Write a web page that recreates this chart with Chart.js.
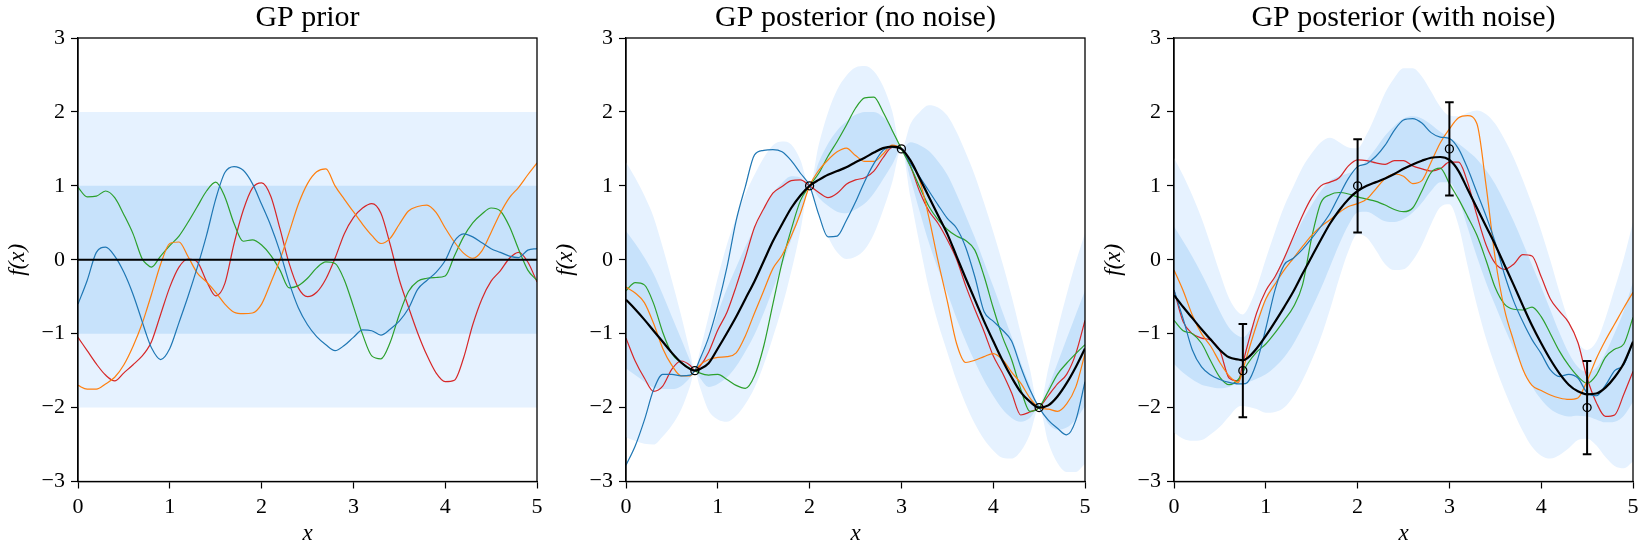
<!DOCTYPE html>
<html>
<head>
<meta charset="utf-8">
<script src="https://cdn.jsdelivr.net/npm/chart.js@4.4.0/dist/chart.umd.min.js"></script>
<style>
  html, body { margin: 0; padding: 0; background: #fff; }
  #wrap { position: relative; width: 1644px; height: 548px; overflow: hidden; background: #fff; }
  #wrap canvas { position: absolute; top: 0; }
</style>
</head>
<body>
<div id="wrap">
  <canvas id="prior" width="615" height="548" style="left:0px"></canvas>
  <canvas id="post" width="615" height="548" style="left:548px"></canvas>
  <canvas id="noisy" width="615" height="548" style="left:1096px"></canvas>
</div>
<script>
/* shared x grid (0.75 added so the curves go through the first data point) */
const xs = [0, 0.1, 0.2, 0.3, 0.4, 0.5, 0.6, 0.7, 0.75, 0.8, 0.9,
  1, 1.1, 1.2, 1.3, 1.4, 1.5, 1.6, 1.7, 1.8, 1.9,
  2, 2.1, 2.2, 2.3, 2.4, 2.5, 2.6, 2.7, 2.8, 2.9,
  3, 3.1, 3.2, 3.3, 3.4, 3.5, 3.6, 3.7, 3.8, 3.9,
  4, 4.1, 4.2, 4.3, 4.4, 4.5, 4.6, 4.7, 4.8, 4.9, 5];

const xTicks = [0, 1, 2, 3, 4, 5];
const yTicks = [-3, -2, -1, 0, 1, 2, 3];
const titles = ["GP prior", "GP posterior (no noise)", "GP posterior (with noise)"];

/* observations */
const obsX = [0.75, 2, 3, 4.5];
const obsY = [-1.5, 1, 1.5, -2];
const obsErr = [0.63, 0.63, 0.63, 0.63];

/* panel 1: prior */
const priorMeanX = [0, 5];
const priorMean = [0, 0];
const priorSd = [1, 1];
const priorBlue = [-0.60, -0.28, 0.10, 0.17, 0.05, -0.17, -0.47, -0.84, -1.03, -1.19, -1.35,
  -1.20, -0.85, -0.49, -0.10, 0.33, 0.82, 1.18, 1.26, 1.21, 1.03,
  0.75, 0.46, 0.11, -0.31, -0.65, -0.88, -1.04, -1.15, -1.23, -1.16,
  -1.05, -0.95, -0.96, -1.02, -0.94, -0.83, -0.66, -0.40, -0.28, -0.17,
  -0.01, 0.25, 0.35, 0.31, 0.23, 0.15, 0.10, 0.05, 0.03, 0.13, 0.15];
const priorOrange = [-1.70, -1.75, -1.75, -1.68, -1.59, -1.42, -1.17, -0.86, -0.67, -0.47, -0.06,
  0.22, 0.24, 0.04, -0.18, -0.30, -0.44, -0.60, -0.71, -0.73, -0.72,
  -0.60, -0.31, 0.00, 0.37, 0.75, 1.03, 1.19, 1.23, 1.00, 0.82,
  0.65, 0.48, 0.33, 0.22, 0.29, 0.48, 0.66, 0.72, 0.74, 0.64,
  0.43, 0.24, 0.09, 0.02, 0.12, 0.37, 0.63, 0.84, 0.98, 1.15, 1.31];
const priorGreen = [0.98, 0.85, 0.86, 0.93, 0.84, 0.61, 0.35, 0.01, -0.06, -0.10, 0.05,
  0.19, 0.32, 0.51, 0.72, 0.93, 1.05, 0.85, 0.49, 0.25, 0.27,
  0.20, 0.06, -0.14, -0.38, -0.35, -0.25, -0.11, -0.03, -0.05, -0.27,
  -0.63, -1.01, -1.30, -1.34, -1.12, -0.74, -0.43, -0.29, -0.25, -0.24,
  -0.22, 0.05, 0.31, 0.50, 0.62, 0.70, 0.66, 0.45, 0.14, -0.14, -0.28];
const priorRed = [-1.05, -1.23, -1.41, -1.56, -1.64, -1.53, -1.42, -1.30, -1.22, -1.11, -0.74,
  -0.37, -0.10, 0.01, -0.03, -0.29, -0.49, -0.32, 0.22, 0.67, 0.97,
  1.04, 0.86, 0.42, -0.05, -0.38, -0.50, -0.44, -0.26, 0.02, 0.35,
  0.57, 0.70, 0.76, 0.63, 0.21, -0.27, -0.64, -0.99, -1.29, -1.53,
  -1.65, -1.63, -1.33, -0.88, -0.53, -0.29, -0.15, 0.02, 0.10, -0.03, -0.30];

/* panel 2: posterior without noise */
const postMean = [-0.54, -0.67, -0.81, -0.96, -1.11, -1.26, -1.39, -1.48, -1.50, -1.48, -1.40,
  -1.20, -0.99, -0.77, -0.53, -0.29, -0.02, 0.25, 0.48, 0.70, 0.87,
  1.00, 1.08, 1.15, 1.20, 1.25, 1.32, 1.38, 1.45, 1.51, 1.53,
  1.50, 1.34, 1.10, 0.85, 0.60, 0.35, 0.05, -0.25, -0.54, -0.83,
  -1.10, -1.36, -1.59, -1.79, -1.92, -2.00, -1.97, -1.85, -1.67, -1.45, -1.20];
const postSd = [0.93, 0.89, 0.84, 0.77, 0.64, 0.49, 0.32, 0.11, 0, 0.11, 0.32,
  0.48, 0.60, 0.67, 0.71, 0.72, 0.70, 0.65, 0.56, 0.43, 0.24,
  0, 0.24, 0.42, 0.55, 0.62, 0.64, 0.62, 0.55, 0.42, 0.24,
  0, 0.25, 0.45, 0.62, 0.73, 0.80, 0.84, 0.85, 0.84, 0.80,
  0.74, 0.66, 0.55, 0.40, 0.22, 0, 0.25, 0.45, 0.60, 0.71, 0.78];
const postBlue = [-2.78, -2.52, -2.17, -1.76, -1.55, -1.55, -1.57, -1.56, -1.50, -1.36, -1.05,
  -0.62, -0.10, 0.53, 0.99, 1.42, 1.48, 1.49, 1.46, 1.34, 1.17,
  1.00, 0.61, 0.31, 0.32, 0.53, 0.78, 1.06, 1.30, 1.48, 1.52,
  1.50, 1.30, 1.12, 0.93, 0.74, 0.56, 0.43, 0.17, -0.23, -0.70,
  -0.83, -0.95, -1.10, -1.45, -1.76, -2.00, -2.17, -2.28, -2.37, -2.17, -1.65];
const postOrange = [-0.37, -0.45, -0.58, -0.86, -1.20, -1.43, -1.57, -1.57, -1.50, -1.43, -1.35,
  -1.32, -1.31, -1.26, -1.03, -0.72, -0.42, -0.12, 0.06, 0.32, 0.63,
  1.00, 1.21, 1.35, 1.46, 1.51, 1.41, 1.33, 1.33, 1.43, 1.55,
  1.50, 1.34, 1.07, 0.57, -0.02, -0.56, -1.13, -1.39, -1.36, -1.31,
  -1.27, -1.35, -1.52, -1.67, -1.87, -2.00, -2.02, -2.05, -1.95, -1.72, -1.27];
const postGreen = [-0.42, -0.31, -0.34, -0.59, -0.98, -1.27, -1.39, -1.47, -1.50, -1.53, -1.56,
  -1.55, -1.62, -1.70, -1.74, -1.57, -1.17, -0.60, -0.04, 0.41, 0.80,
  1.00, 1.17, 1.40, 1.60, 1.82, 2.05, 2.19, 2.20, 2.00, 1.75,
  1.50, 1.26, 0.98, 0.72, 0.54, 0.41, 0.32, 0.26, 0.13, -0.22,
  -0.65, -1.04, -1.35, -1.75, -2.05, -2.00, -1.78, -1.55, -1.40, -1.27, -1.15];
const postRed = [-1.06, -1.37, -1.60, -1.78, -1.71, -1.48, -1.37, -1.43, -1.50, -1.45, -1.25,
  -0.95, -0.71, -0.36, 0.03, 0.44, 0.69, 0.90, 0.99, 1.07, 1.08,
  1.00, 0.91, 0.84, 0.90, 1.02, 1.08, 1.11, 1.20, 1.38, 1.52,
  1.50, 1.26, 0.92, 0.66, 0.49, 0.27, 0.01, -0.35, -0.67, -0.97,
  -1.30, -1.53, -1.80, -2.10, -2.06, -2.00, -1.84, -1.68, -1.55, -1.27, -0.82];

/* panel 3: posterior with noise */
const noisyMean = [-0.48, -0.64, -0.79, -0.94, -1.08, -1.22, -1.32, -1.35, -1.36, -1.33, -1.20,
  -1.03, -0.84, -0.64, -0.43, -0.19, 0.04, 0.27, 0.49, 0.67, 0.82,
  0.93, 1.00, 1.05, 1.10, 1.16, 1.23, 1.29, 1.34, 1.38, 1.39,
  1.35, 1.20, 0.95, 0.70, 0.45, 0.20, -0.07, -0.34, -0.62, -0.89,
  -1.13, -1.35, -1.54, -1.69, -1.78, -1.82, -1.81, -1.73, -1.59, -1.40, -1.11];
const noisySd = [0.93, 0.89, 0.83, 0.75, 0.64, 0.52, 0.40, 0.32, 0.31, 0.33, 0.41,
  0.52, 0.61, 0.68, 0.71, 0.72, 0.70, 0.66, 0.58, 0.46, 0.35,
  0.29, 0.35, 0.46, 0.58, 0.65, 0.68, 0.65, 0.57, 0.45, 0.34,
  0.30, 0.37, 0.52, 0.66, 0.76, 0.82, 0.85, 0.86, 0.85, 0.82,
  0.76, 0.67, 0.55, 0.43, 0.33, 0.30, 0.35, 0.47, 0.60, 0.71, 0.81];
const noisyBlue = [-0.41, -0.80, -1.22, -1.45, -1.56, -1.62, -1.66, -1.68, -1.68, -1.66, -1.39,
  -0.93, -0.41, -0.07, 0.02, 0.14, 0.29, 0.45, 0.63, 0.87, 1.10,
  1.26, 1.30, 1.40, 1.55, 1.75, 1.89, 1.91, 1.85, 1.72, 1.66,
  1.64, 1.50, 1.23, 0.91, 0.59, 0.23, -0.20, -0.56, -0.84, -1.08,
  -1.27, -1.49, -1.58, -1.55, -1.60, -1.80, -1.84, -1.70, -1.50, -1.42, -1.11];
const noisyOrange = [-0.14, -0.42, -0.75, -1.00, -1.17, -1.39, -1.57, -1.66, -1.49, -1.28, -0.88,
  -0.53, -0.33, -0.14, 0.02, 0.18, 0.33, 0.45, 0.54, 0.64, 0.72,
  0.76, 0.82, 0.96, 1.10, 1.16, 1.13, 1.03, 1.07, 1.32, 1.58,
  1.77, 1.92, 1.95, 1.84, 1.00, 0.01, -0.67, -1.10, -1.48, -1.70,
  -1.77, -1.83, -1.87, -1.89, -1.87, -1.64, -1.34, -1.09, -0.87, -0.65, -0.44];
const noisyGreen = [-0.82, -0.96, -1.00, -1.13, -1.37, -1.59, -1.69, -1.62, -1.52, -1.41, -1.25,
  -1.14, -0.99, -0.82, -0.64, -0.34, 0.30, 0.77, 0.88, 0.91, 0.89,
  0.85, 0.82, 0.79, 0.74, 0.68, 0.65, 0.70, 0.93, 1.18, 1.24,
  1.03, 0.82, 0.58, 0.33, -0.01, -0.38, -0.60, -0.67, -0.68, -0.64,
  -0.77, -1.00, -1.24, -1.43, -1.58, -1.67, -1.56, -1.32, -1.21, -1.14, -0.78];
const noisyRed = [-0.41, -0.84, -1.00, -1.06, -1.09, -1.23, -1.60, -1.64, -1.40, -1.16, -0.72,
  -0.42, -0.23, 0.02, 0.31, 0.60, 0.84, 1.00, 1.05, 1.11, 1.27,
  1.35, 1.34, 1.31, 1.29, 1.34, 1.34, 1.27, 1.23, 1.20, 1.23,
  1.32, 1.32, 1.04, 0.60, 0.20, -0.05, -0.13, -0.06, 0.07, 0.05,
  -0.23, -0.53, -0.70, -0.85, -1.12, -1.60, -1.93, -2.12, -2.10, -1.82, -1.51];

const FONT = '"Liberation Serif", "DejaVu Serif", serif';
const LIGHT = "rgb(230, 242, 255)";
const DARK = "rgb(199, 226, 251)";
const C = { blue: "#1f77b4", orange: "#ff7f0e", green: "#2ca02c", red: "#d62728" };

Chart.defaults.font.family = FONT;
Chart.defaults.color = "#000";

const pts = (xv, yv) => xv.map((x, i) => ({ x, y: yv[i] }));
const fmt = v => (v < 0 ? "\u2212" + Math.abs(v) : String(v));

function bands(xv, mean, sd) {
  const edge = (k) => mean.map((m, i) => m + k * sd[i]);
  const base = { borderColor: "rgba(0,0,0,0)", borderWidth: 0, pointRadius: 0, cubicInterpolationMode: "monotone" };
  return [
    { ...base, data: pts(xv, edge(2)), fill: "+1", backgroundColor: LIGHT, order: 20 },
    { ...base, data: pts(xv, edge(-2)), fill: false, order: 20 },
    { ...base, data: pts(xv, edge(1)), fill: "+1", backgroundColor: DARK, order: 15 },
    { ...base, data: pts(xv, edge(-1)), fill: false, order: 15 }
  ];
}

function sample(yv, color) {
  return { data: pts(xs, yv), borderColor: color, borderWidth: 1.2, pointRadius: 0,
    fill: false, cubicInterpolationMode: "monotone", order: 5 };
}

function meanLine(xv, yv) {
  return { data: pts(xv, yv), borderColor: "#000", borderWidth: 2.2, pointRadius: 0,
    fill: false, cubicInterpolationMode: "monotone", order: 2 };
}

function obsPoints() {
  return { data: pts(obsX, obsY), showLine: false, pointStyle: "circle", pointRadius: 4,
    pointBorderWidth: 1.3, pointBorderColor: "#000", pointBackgroundColor: "rgba(0,0,0,0)", order: 0 };
}

function errorBars() {
  const data = [];
  obsX.forEach((x, i) => {
    data.push({ x, y: obsY[i] - obsErr[i] }, { x, y: obsY[i] + obsErr[i] }, { x, y: null });
  });
  return { data, borderColor: "#000", borderWidth: 2, tension: 0, spanGaps: false,
    pointStyle: "line", pointRadius: 4.3, pointBorderWidth: 2, pointBorderColor: "#000", order: 1 };
}

/* closes the box on top and right like matplotlib spines */
const frame = {
  id: "frame",
  afterDatasetsDraw(chart) {
    const { ctx, chartArea: a } = chart;
    ctx.save();
    ctx.strokeStyle = "#000";
    ctx.lineWidth = 1.3;
    ctx.strokeRect(a.left, a.top, a.right - a.left, a.bottom - a.top);
    ctx.restore();
  }
};

function axis(min, max, ticks, label, fitFn, titlePad) {
  return {
    type: "linear", min, max,
    afterBuildTicks: s => { s.ticks = ticks.map(v => ({ value: v })); },
    afterFit: fitFn,
    ticks: { color: "#000", font: { family: FONT, size: 22 }, padding: 6, maxRotation: 0, callback: v => fmt(v) },
    grid: { display: true, drawOnChartArea: false, drawTicks: true, tickLength: 7, tickColor: "#000", tickWidth: 1.2 },
    border: { display: true, color: "#000", width: 1.3 },
    title: { display: true, text: label, color: "#000", font: { family: FONT, size: 23, style: "italic" }, padding: titlePad }
  };
}

/* empty right-hand axis that only reserves space, so the title centres over the plot */
const spacer = {
  type: "linear", position: "right", min: -3, max: 3, display: true,
  ticks: { display: false }, grid: { display: false }, border: { display: false },
  afterFit: s => { s.width = 78; }
};

function makePanel(id, title, datasets) {
  new Chart(document.getElementById(id), {
    type: "line",
    data: { datasets },
    options: {
      responsive: false,
      animation: false,
      layout: { padding: 0 },
      plugins: {
        legend: { display: false },
        tooltip: { enabled: false },
        title: { display: true, text: title, color: "#000", font: { family: FONT, size: 30, weight: "normal" }, padding: { top: 0, bottom: 2 } }
      },
      scales: {
        x: axis(0, 5, xTicks, "x", s => { s.height = 66.5; }, { top: 4, bottom: 0 }),
        y: axis(-3, 3, yTicks, "f(x)", s => { s.width = 78; }, { top: 4, bottom: 3 }),
        yRight: spacer
      }
    },
    plugins: [frame]
  });
}

makePanel("prior", titles[0], [
  ...bands(priorMeanX, priorMean, priorSd),
  sample(priorBlue, C.blue), sample(priorOrange, C.orange),
  sample(priorGreen, C.green), sample(priorRed, C.red),
  meanLine(priorMeanX, priorMean)
]);

makePanel("post", titles[1], [
  ...bands(xs, postMean, postSd),
  sample(postBlue, C.blue), sample(postOrange, C.orange),
  sample(postGreen, C.green), sample(postRed, C.red),
  meanLine(xs, postMean),
  obsPoints()
]);

makePanel("noisy", titles[2], [
  ...bands(xs, noisyMean, noisySd),
  sample(noisyBlue, C.blue), sample(noisyOrange, C.orange),
  sample(noisyGreen, C.green), sample(noisyRed, C.red),
  meanLine(xs, noisyMean),
  errorBars(),
  obsPoints()
]);
</script>
</body>
</html>
